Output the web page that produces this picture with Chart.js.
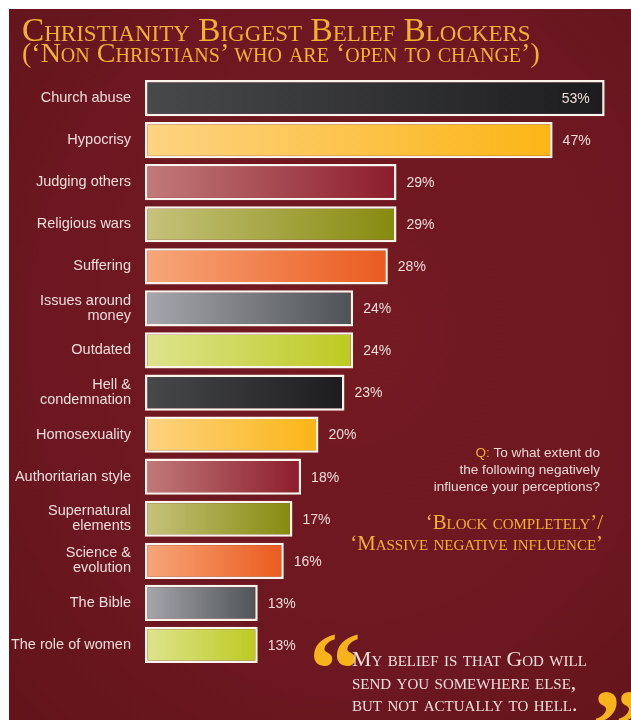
<!DOCTYPE html>
<html>
<head>
<meta charset="utf-8">
<script src="https://cdn.jsdelivr.net/npm/chart.js@4/dist/chart.umd.min.js"></script>
<style>
  html,body{margin:0;padding:0;background:#fff;}
  #wrap{position:relative;width:631px;height:720px;overflow:hidden;background:#fff;}
  #panel{position:absolute;left:9px;top:9px;right:0;bottom:0;
    background:radial-gradient(ellipse at 55% 45%, #741a23 0%, #6c1721 65%, #621419 100%);}
  #c{position:absolute;left:0;top:0;}
  .serif{font-family:"Liberation Serif","DejaVu Serif",serif;font-variant:small-caps;position:absolute;white-space:nowrap;}
  .sans{font-family:"Liberation Sans",Arial,sans-serif;position:absolute;white-space:nowrap;}
</style>
</head>
<body>
<div id="wrap">
  <div id="panel"></div>
  <canvas id="c" width="631" height="720"></canvas>
  <div class="serif" style="left:22px;top:12px;font-size:33.3px;line-height:36px;color:#f2b134;">Christianity Biggest Belief Blockers</div>
  <div class="serif" style="left:22px;top:38px;font-size:28px;line-height:30px;color:#f2b134;">(‘Non Christians’ who are ‘open to change’)</div>
  <div class="sans" style="right:31px;top:444px;font-size:13.6px;line-height:17px;color:#ead6d2;text-align:right;"><span style="color:#f2b134">Q:</span> To what extent do<br>the following negatively<br>influence your perceptions?</div>
  <div class="serif" style="right:28px;top:511px;font-size:20.8px;line-height:21px;color:#f2b134;text-align:right;">‘Block completely’/<br>‘Massive negative influence’</div>
  <div class="serif" style="left:309px;top:617px;font-size:104px;font-weight:bold;color:#f6b31c;font-variant:normal;line-height:104px;">“</div>
  <div class="serif" style="left:352px;top:648px;font-size:21.8px;line-height:22.5px;color:#f0e0da;">My belief is that God will<br>send you somewhere else,<br>but not actually to hell.</div>
  <div class="serif" style="left:592px;top:674px;font-size:104px;font-weight:bold;color:#f6b31c;font-variant:normal;line-height:104px;">”</div>
</div>
<script>
const categories = [
  ["Church abuse"], ["Hypocrisy"], ["Judging others"], ["Religious wars"], ["Suffering"],
  ["Issues around", "money"], ["Outdated"], ["Hell &", "condemnation"], ["Homosexuality"],
  ["Authoritarian style"], ["Supernatural", "elements"], ["Science &", "evolution"],
  ["The Bible"], ["The role of women"]
];
const values = [53, 47, 29, 29, 28, 24, 24, 23, 20, 18, 17, 16, 13, 13];
const valueLabels = ["53%", "47%", "29%", "29%", "28%", "24%", "24%", "23%", "20%", "18%", "17%", "16%", "13%", "13%"];
const startColors = ["#48494b", "#fdd383", "#c27a7a", "#c6c37c", "#f7a77a", "#a6a8ab", "#dee48f",
                     "#48494b", "#fdd383", "#c27a7a", "#c6c37c", "#f7a77a", "#a6a8ab", "#dee48f"];
const endColors   = ["#1c1c1e", "#fbb515", "#8c1c2c", "#868a0e", "#ea5a1e", "#4e5155", "#bdca20",
                     "#1c1c1e", "#fbb515", "#8c1c2c", "#868a0e", "#ea5a1e", "#4e5155", "#bdca20"];

function gradientFor(ctx) {
  if (ctx.type !== 'data') return endColors[0];
  const i = ctx.dataIndex;
  const chart = ctx.chart;
  const xs = chart.scales.x;
  if (!chart.chartArea || !xs) return endColors[i];
  const x0 = xs.getPixelForValue(0), x1 = xs.getPixelForValue(values[i]);
  const g = chart.ctx.createLinearGradient(x0, 0, x1, 0);
  g.addColorStop(0, startColors[i]);
  g.addColorStop(1, endColors[i]);
  return g;
}

const valueLabelPlugin = {
  id: 'valueLabels',
  afterDatasetsDraw(chart) {
    const c = chart.ctx;
    const meta = chart.getDatasetMeta(0);
    c.save();
    c.font = '14px "Liberation Sans", Arial, sans-serif';
    c.fillStyle = '#eedcd8';
    c.textBaseline = 'middle';
    meta.data.forEach((bar, i) => {
      const t = valueLabels[i];
      const w = c.measureText(t).width;
      if (bar.x + 10 + w > chart.width - 4) {
        c.textAlign = 'right';
        c.fillText(t, bar.x - 15, bar.y + 1);
      } else {
        c.textAlign = 'left';
        c.fillText(t, bar.x + 10, bar.y + 1);
      }
    });
    c.restore();
  }
};

new Chart(document.getElementById('c'), {
  type: 'bar',
  data: {
    labels: categories,
    datasets: [{
      data: values,
      backgroundColor: gradientFor,
      borderColor: '#fbf4ec',
      borderWidth: 2.5,
      borderSkipped: false,
      barPercentage: 0.86,
      categoryPercentage: 1
    }]
  },
  options: {
    indexAxis: 'y',
    responsive: false,
    animation: false,
    devicePixelRatio: 1,
    layout: { padding: { left: 0, right: 9, top: 77, bottom: 54 } },
    plugins: { legend: { display: false }, tooltip: { enabled: false }, title: { display: false } },
    scales: {
      x: { display: false, min: 0, max: 55 },
      y: {
        grid: { display: false, drawTicks: false },
        border: { display: false },
        ticks: {
          color: '#eedcd8',
          font: { family: '"Liberation Sans", Arial, sans-serif', size: 14.5, lineHeight: 1.05 },
          padding: 14
        },
        afterFit(scale) { scale.width = 145; }
      }
    }
  },
  plugins: [valueLabelPlugin]
});
</script>
</body>
</html>
